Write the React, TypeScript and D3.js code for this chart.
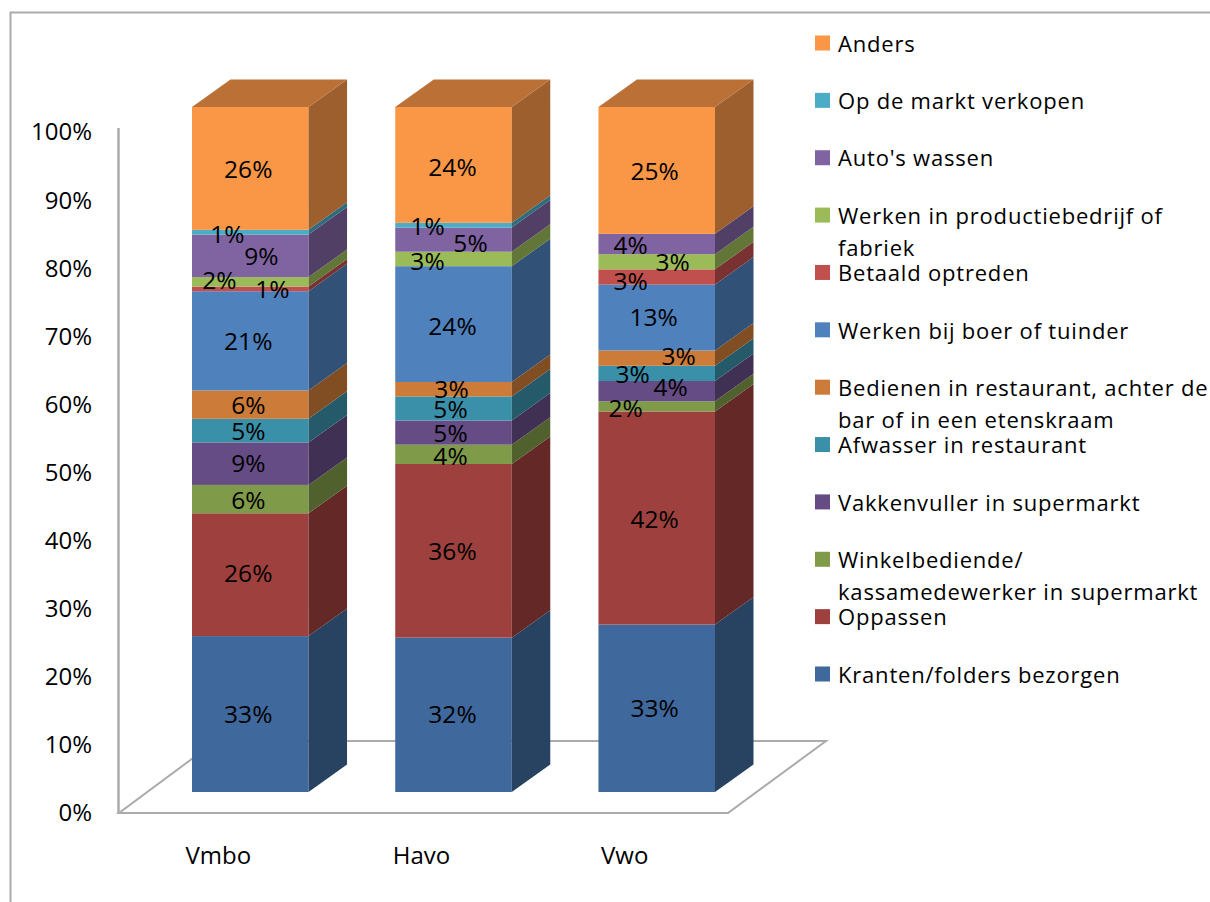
import React from "react";
import * as d3 from "d3";

const categories = ["Vmbo", "Havo", "Vwo"];
const seriesNames = [
  "Kranten/folders bezorgen",
  "Oppassen",
  "Winkelbediende/\nkassamedewerker in supermarkt",
  "Vakkenvuller in supermarkt",
  "Afwasser in restaurant",
  "Bedienen in restaurant, achter de\nbar of in een etenskraam",
  "Werken bij boer of tuinder",
  "Betaald optreden",
  "Werken in productiebedrijf of\nfabriek",
  "Auto's wassen",
  "Op de markt verkopen",
  "Anders",
];
const vmbo = [33, 26, 6, 9, 5, 6, 21, 1, 2, 9, 1, 26];
const havo = [32, 36, 4, 5, 5, 3, 24, 0, 3, 5, 1, 24];
const vwo = [33, 42, 2, 4, 3, 3, 13, 3, 3, 4, 0, 25];
const seriesColors = [
  "#3F689C", "#9E413E", "#7F9A48", "#664C84", "#3A8FA9", "#CC7B38",
  "#4F81BD", "#C0504D", "#9BBB59", "#8064A2", "#4BACC6", "#F99747",
];
const yTicks = [0, 0.1, 0.2, 0.3, 0.4, 0.5, 0.6, 0.7, 0.8, 0.9, 1];

// Hand-placed data label nudges, per category and series (px from the segment centre)
const labelDx = [
  [-2, -2, -2, -2, -2, -2, -2, 22, -31, 11, -23, -2],
  [-1, -1, -3, -3, -3, -2, -1, 0, -26, 17, -26, -1],
  [-2, -2, -31, 14, -24, 22, -3, -26, 16, -26, 0, -2],
];
const labelDy = [
  [0, -1, 1, 0, 1, 1, 1, 1, -1, 1, 2, 1],
  [0, 1, 2, 1, 1, 0, 2, 0, 2, 4, 1, 3],
  [0, 1, 2, -4, 1, -2, 0, 4, 1, 1, 0, 1],
];

const FONT = "'Open Sans', sans-serif";
const DEPTH_X = 38.5;
const DEPTH_Y = 27.5;
const BAR_LIFT = 21;
const GRAY = "#ababab";

export default function App() {
  const rows = [vmbo, havo, vwo].map((vals, i) => {
    const r: Record<string, any> = { cat: categories[i] };
    seriesNames.forEach((s, j) => (r[s] = vals[j]));
    return r;
  });
  const stacked = d3.stack().keys(seriesNames).offset(d3.stackOffsetExpand)(rows as any);

  const x = d3.scaleBand().domain(categories).range([192, 715]).paddingInner(0.4266).paddingOuter(0);
  const y = d3.scaleLinear().domain([0, 1]).range([813, 128]);
  const yLabel = d3.scaleLinear().domain([0, 1]).range([812, 131]);
  const legendY = d3.scalePoint().domain(seriesNames.slice().reverse()).range([43, 674]);
  const w = x.bandwidth();
  const line = d3.line();
  const poly = (pts: [number, number][]) => line(pts)! + "Z";

  const floor = poly([
    [119, 813],
    [728, 813],
    [826, 741],
    [216, 741],
  ]);

  return (
    <svg
      width={1210}
      height={902}
      style={{ position: "absolute", left: 0, top: 0, background: "#fff" }}
      fontFamily={FONT}
      fill="#000"
    >
      <path d="M10.5,902V12.5H1210" fill="none" stroke={GRAY} strokeWidth={2} />
      <path d={floor} fill="none" stroke={GRAY} strokeWidth={2} />
      <line x1={118.5} x2={118.5} y1={y(1)} y2={814} stroke={GRAY} strokeWidth={2.5} />

      {yTicks.map((t) => (
        <text key={t} x={92} y={yLabel(t) + 1} dy="0.35em" textAnchor="end" fontSize={24}>
          {d3.format(".0%")(t)}
        </text>
      ))}

      {categories.map((c) => (
        <text key={c} x={x(c)! + w / 2 - 32} y={856} dy="0.35em" textAnchor="middle" fontSize={24}>
          {c}
        </text>
      ))}

      {categories.map((c, i) => {
        const x0 = x(c)!;
        const x1 = x0 + w;
        return (
          <g key={c}>
            {stacked.map((layer, j) => {
              const [a, b] = layer[i];
              if (b - a <= 0) return null;
              const yb = y(a) - BAR_LIFT;
              const yt = y(b) - BAR_LIFT;
              const col = seriesColors[j];
              const side = poly([
                [x1, yb],
                [x1 + DEPTH_X, yb - DEPTH_Y],
                [x1 + DEPTH_X, yt - DEPTH_Y],
                [x1, yt],
              ]);
              const c3 = d3.rgb(col);
              const shade = (k: number) => d3.rgb(c3.r * k, c3.g * k, c3.b * k).formatHex();
              return (
                <g key={layer.key}>
                  <rect x={x0} y={yt} width={w} height={yb - yt} fill={col} />
                  <path d={side} fill={shade(0.63)} />
                  {j === seriesNames.length - 1 && (
                    <path
                      d={poly([
                        [x0, yt],
                        [x0 + DEPTH_X, yt - DEPTH_Y],
                        [x1 + DEPTH_X, yt - DEPTH_Y],
                        [x1, yt],
                      ])}
                      fill={shade(0.75)}
                    />
                  )}
                </g>
              );
            })}
          </g>
        );
      })}

      {categories.map((c, i) =>
        stacked.map((layer, j) => {
          const [a, b] = layer[i];
          const v = [vmbo, havo, vwo][i][j];
          if (v === 0) return null;
          return (
            <text
              key={c + layer.key}
              x={x(c)! + w / 2 + labelDx[i][j]}
              y={y((a + b) / 2) - BAR_LIFT + labelDy[i][j]}
              dy="0.35em"
              textAnchor="middle"
              fontSize={24.5}
            >
              {v}%
            </text>
          );
        })
      )}

      {seriesNames.map((s, j) => {
        const ly = legendY(s)!;
        return (
          <g key={s}>
            <rect x={815} y={ly - 7.5} width={15} height={15} fill={seriesColors[j]} />
            {s.split("\n").map((t, k) => (
              <text key={k} x={838} y={ly + 1 + k * 32} dy="0.35em" fontSize={22} letterSpacing={0.8}>
                {t}
              </text>
            ))}
          </g>
        );
      })}
    </svg>
  );
}
